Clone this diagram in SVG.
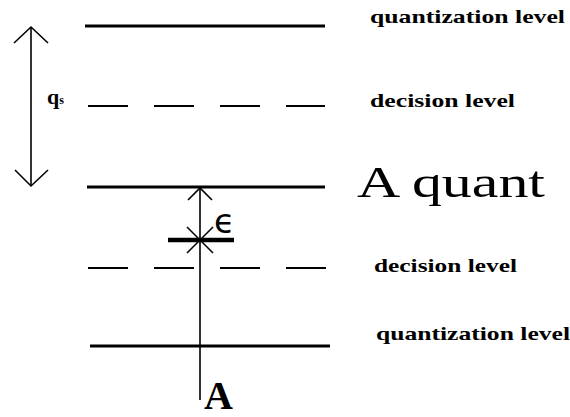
<svg xmlns="http://www.w3.org/2000/svg" width="570" height="417" viewBox="0 0 570 417">
<style>
.lvl{stroke:#000;stroke-width:3;fill:none}
.dash{stroke:#000;stroke-width:2.2;fill:none;stroke-dasharray:40 26}
.thin{stroke:#000;stroke-width:1.6;fill:none}
.lab{font-family:"Liberation Serif",serif;font-weight:bold;font-size:19px;fill:#000}
.big{font-family:"Liberation Serif",serif;font-size:44px;fill:#000}
</style>
<rect width="570" height="417" fill="#fff"/>
<g id="quant-level-top"><line class="lvl" x1="85" y1="26" x2="325" y2="26"/><text class="lab" x="370" y="23" textLength="195" lengthAdjust="spacingAndGlyphs">quantization level</text></g>
<g id="decision-level-top"><line class="dash" x1="88" y1="106" x2="325" y2="106"/><text class="lab" x="370" y="107" textLength="145" lengthAdjust="spacingAndGlyphs">decision level</text></g>
<g id="a-quant"><line class="lvl" x1="87" y1="187" x2="325" y2="187"/><text class="big" x="357" y="197" textLength="188" lengthAdjust="spacingAndGlyphs">A quant</text></g>
<g id="decision-level-bottom"><line class="dash" x1="88" y1="268" x2="327" y2="268"/><text class="lab" x="374" y="272" textLength="143" lengthAdjust="spacingAndGlyphs">decision level</text></g>
<g id="quant-level-bottom"><line class="lvl" x1="90" y1="346" x2="330" y2="346"/><text class="lab" x="376" y="340" textLength="194" lengthAdjust="spacingAndGlyphs">quantization level</text></g>
<g id="qs-label"><text class="lab" x="47" y="104" style="font-size:22px">q<tspan style="font-size:12px">s</tspan></text></g>
<g id="a-label"><text class="big" x="204" y="409" style="font-size:40px;font-weight:bold">A</text></g>
<g id="epsilon-label"><text x="214" y="233" style="font-family:'DejaVu Sans',sans-serif;font-size:34px;fill:#000">ϵ</text></g>
<g id="error-mark"><line x1="168" y1="240" x2="234" y2="240" stroke="#000" stroke-width="4.5"/><line class="thin" x1="187" y1="227" x2="213" y2="253"/><line class="thin" x1="213" y1="227" x2="187" y2="253"/></g>
<g id="connectors">
<line class="thin" x1="31" y1="27" x2="31" y2="186"/>
<polyline class="thin" points="14,43 31,27 48,43"/>
<polyline class="thin" points="15,170 31,186 48,170"/>
<line class="thin" x1="200" y1="188" x2="200" y2="400"/>
<polyline class="thin" points="188,200 200,188 212,200"/>
</g>
</svg>
